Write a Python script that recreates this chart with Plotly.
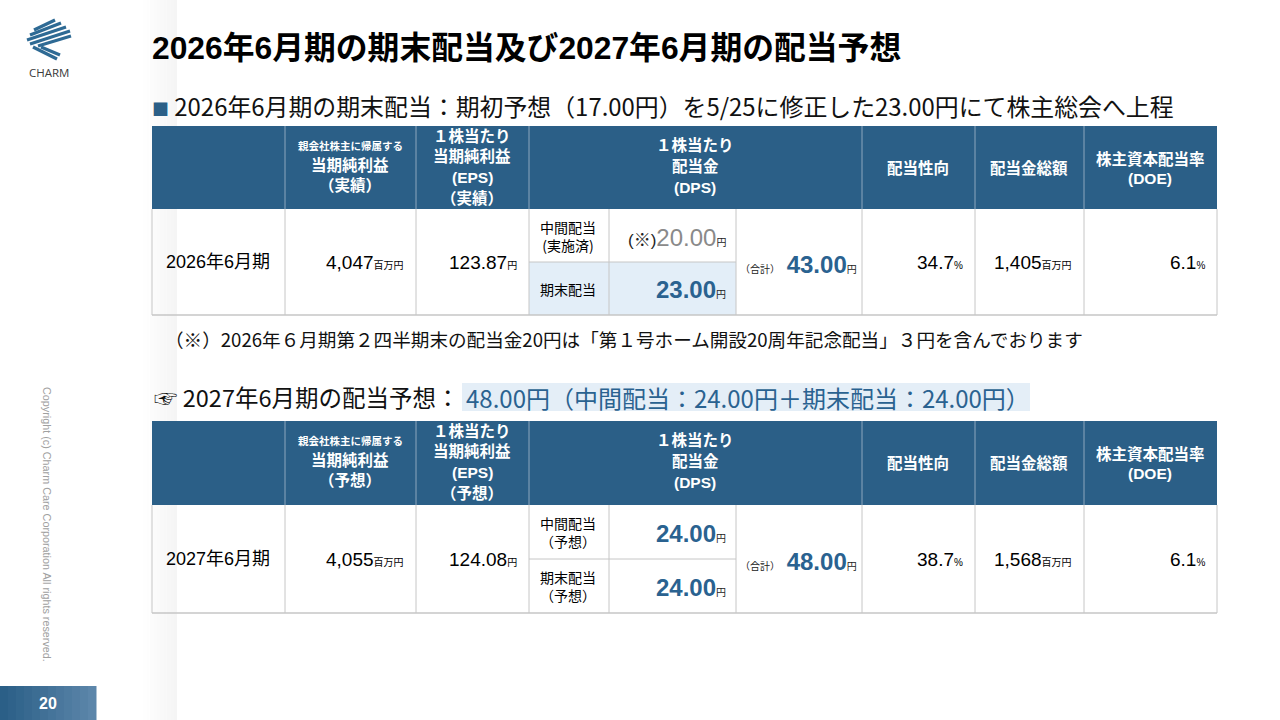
import plotly.graph_objects as go

# ---- data ----
periods = ["2026年6月期", "2027年6月期"]
basis = ["実績", "予想"]
net_income = [4047, 4055]          # 百万円
eps = [123.87, 124.08]             # 円
interim_label = ["中間配当<br>(実施済)", "中間配当<br>（予想）"]
year_end_label = ["期末配当", "期末配当<br>（予想）"]
interim_dps = [20.00, 24.00]       # 円
year_end_dps = [23.00, 24.00]      # 円
total_dps = [43.00, 48.00]         # 円
payout_ratio = [34.7, 38.7]        # %
total_dividend = [1405, 1568]      # 百万円
doe = [6.1, 6.1]                   # %

title = "2026年6月期の期末配当及び2027年6月期の配当予想"
subtitle = "2026年6月期の期末配当：期初予想（17.00円）を5/25に修正した23.00円にて株主総会へ上程"
note = "（※）2026年６月期第２四半期末の配当金20円は「第１号ホーム開設20周年記念配当」３円を含んでおります"
forecast_head = "☞ 2027年6月期の配当予想："
forecast_text = "48.00円（中間配当：24.00円＋期末配当：24.00円）"

JP = "Noto Sans CJK JP"
NUM = "Liberation Sans, Noto Sans CJK JP"
NAVY = "#2b5f87"
BLUE = "#2a6290"
GRID = "#c6c6c6"

shapes = []
annos = []


def rect(x0, y0, x1, y1, fill, layer="below"):
    shapes.append(dict(type="rect", xref="x", yref="y", x0=x0, y0=y0, x1=x1, y1=y1,
                       fillcolor=fill, line=dict(width=0), layer=layer))


def line(x0, y0, x1, y1, color, width=1):
    shapes.append(dict(type="line", xref="x", yref="y", x0=x0, y0=y0, x1=x1, y1=y1,
                       line=dict(color=color, width=width), layer="above"))


def text(x, y, s, size, color="#000", family=NUM, anchor="center", bold=False, angle=0):
    annos.append(dict(x=x, y=y, xref="x", yref="y", text=s, showarrow=False,
                      xanchor=anchor, yanchor="middle", textangle=angle,
                      font=dict(size=size, color=color, family=family,
                                weight="bold" if bold else "normal")))


def small(s, size, color=None):
    st = "font-size:%spx" % size
    if color:
        st += ";color:" + color
    return '<span style="%s">%s</span>' % (st, s)


# left shadow strip
for k in range(10):
    rect(143 + k * 3.4, 0, 146.4 + k * 3.4, 720, "rgba(0,0,0,%.3f)" % (0.004 * (k + 1)))

# logo
LOGO = "#2e6a94"
for a, b in [((34, 30), (55, 20)), ((30, 35), (61, 23)), ((27, 40), (66, 27)),
             ((30, 44), (70, 31)), ((38, 46), (71, 36))]:
    line(a[0], a[1], b[0], b[1], LOGO, 3.2)
for a, b in [((33, 47), (57, 59)), ((41, 47), (60, 55))]:
    line(a[0], a[1], b[0], b[1], LOGO, 3.2)
text(49, 72, "CHARM", 11.5, "#3a3a3a", "Open Sans")

# copyright and page number
text(47, 524, "Copyright (c) Charm Care Corporation All rights reserved.", 10.8, "#a0a0a0", NUM, angle=90)
for k in range(12):
    t = k / 11
    r = int(43 + t * (92 - 43))
    g = int(95 + t * (134 - 95))
    b = int(135 + t * (170 - 135))
    rect(k * 8, 686, k * 8 + 8.5, 720, "rgb(%d,%d,%d)" % (r, g, b))
text(48, 703, "20", 16, "#fff", NUM, bold=True)

# titles
text(150, 48, title, 31.8, "#000", NUM, anchor="left", bold=True)
text(150, 105, small("■", 17, NAVY) + " " + subtitle, 23.9, "#111", JP, anchor="left")
text(163, 338, note, 18.6, "#111", JP, anchor="left")
rect(462, 383, 1030, 411, "#e4eef7")
text(461, 397, forecast_head, 23.5, "#111", JP, anchor="right")
text(464, 397, forecast_text, 24, BLUE, JP, anchor="left")

# tables
cols = [152, 285, 416, 529, 609, 736, 862, 975, 1084, 1217]
tops = [126, 421]
hbs = [209, 505]
mids = [262, 559]
bots = [315, 613]

for i in range(2):
    top, hb, mid, bot = tops[i], hbs[i], mids[i], bots[i]
    dy = top - tops[0]
    rc = (hb + bot) / 2

    # header
    rect(152, top, 1217, hb, NAVY)
    for x in [285, 416, 529, 862, 975, 1084]:
        line(x, top, x, hb, "#8da7bd", 1)
    text(350, 145 + dy, "親会社株主に帰属する", 10.5, "#fff", JP, bold=True)
    text(350, 164 + dy, "当期純利益", 15.5, "#fff", JP, bold=True)
    text(350, 184 + dy, "（%s）" % basis[i], 15.5, "#fff", JP, bold=True)
    for k, s in enumerate(["１株当たり", "当期純利益", "(EPS)", "（%s）" % basis[i]]):
        text(472, 136 + dy + k * 20.7, s, 15.5, "#fff", NUM, bold=True)
    for k, s in enumerate(["１株当たり", "配当金", "(DPS)"]):
        text(695, 145 + dy + k * 21, s, 15.5, "#fff", NUM, bold=True)
    text(918, 167 + dy, "配当性向", 15.5, "#fff", JP, bold=True)
    text(1029, 167 + dy, "配当金総額", 15.5, "#fff", JP, bold=True)
    text(1150, 158 + dy, "株主資本配当率", 15.5, "#fff", JP, bold=True)
    text(1150, 178 + dy, "(DOE)", 15.5, "#fff", NUM, bold=True)

    # body
    if i == 0:
        rect(529, mid, 736, bot, "#e3eef8")
    for x in cols:
        line(x, hb, x, bot, GRID, 1)
    line(152, bot, 1217, bot, GRID, 1.3)
    line(529, mid, 736, mid, GRID, 1)

    text(218, rc, periods[i], 18, "#000", NUM)
    text(406, rc, "{:,}".format(net_income[i]) + small("百万円", 10), 19, "#000", NUM, anchor="right")
    text(519, rc, "{:.2f}".format(eps[i]) + small("円", 10), 19, "#000", NUM, anchor="right")
    text(568, (hb + mid) / 2, interim_label[i], 14, "#000", JP)
    text(568, (mid + bot) / 2, year_end_label[i], 14, "#000", JP)
    if i == 0:
        s = small("(※)", 17, "#222") + "{:.2f}".format(interim_dps[i]) + small("円", 10, "#222")
        text(728, (hb + mid) / 2 + 2, s, 24, "#8a8a8a", NUM, anchor="right")
    else:
        s = "<b>{:.2f}</b>".format(interim_dps[i]) + small("円", 10, "#222")
        text(728, (hb + mid) / 2 + 1, s, 24, BLUE, NUM, anchor="right")
    s = "<b>{:.2f}</b>".format(year_end_dps[i]) + small("円", 10, "#222")
    text(728, (mid + bot) / 2 + 1, s, 24, BLUE, NUM, anchor="right")
    s = small("（合計）", 10, "#222") + " <b>{:.2f}</b>".format(total_dps[i]) + small("円", 10, "#222")
    text(798, rc + 2, s, 24, BLUE, NUM)
    text(965, rc, "{:.1f}".format(payout_ratio[i]) + small("%", 10), 19, "#000", NUM, anchor="right")
    text(1074, rc, "{:,}".format(total_dividend[i]) + small("百万円", 10), 19, "#000", NUM, anchor="right")
    text(1207, rc, "{:.1f}".format(doe[i]) + small("%", 10), 19, "#000", NUM, anchor="right")

fig = go.Figure(go.Scatter(x=[0, 1280], y=[0, 720], mode="markers",
                           marker=dict(opacity=0), hoverinfo="skip", showlegend=False))
fig.update_layout(
    width=1280, height=720, margin=dict(l=0, r=0, t=0, b=0),
    paper_bgcolor="#fff", plot_bgcolor="#fff",
    xaxis=dict(range=[0, 1280], visible=False, fixedrange=True),
    yaxis=dict(range=[720, 0], visible=False, fixedrange=True),
    shapes=shapes, annotations=annos, showlegend=False,
)
fig.write_html("out.html", config=dict(displayModeBar=False),
               post_script="document.body.style.margin='0px';")
